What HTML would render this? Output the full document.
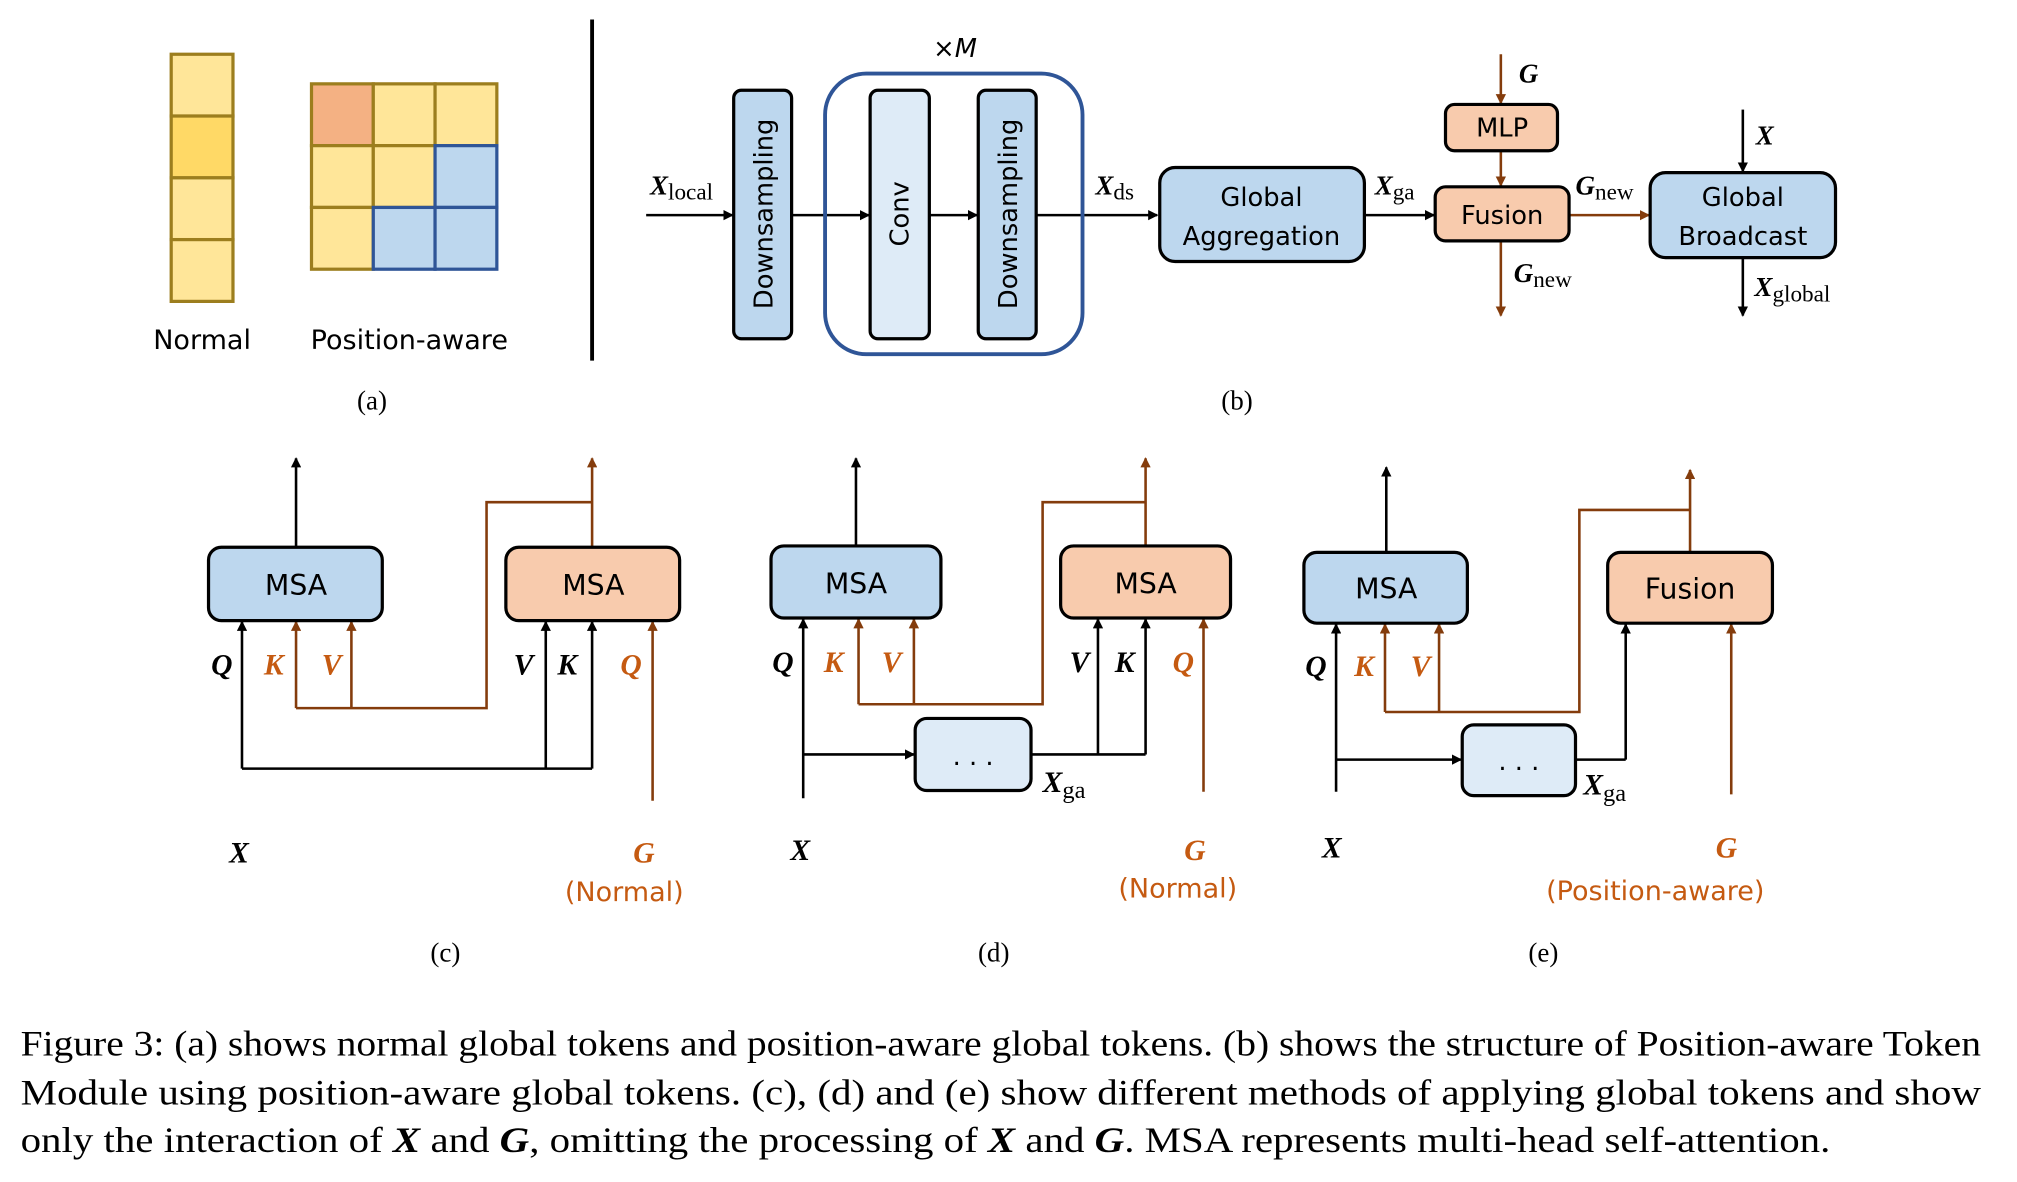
<!DOCTYPE html>
<html><head><meta charset="utf-8"><style>
html,body{margin:0;padding:0;background:#fff;}
svg{display:block;}
.s{font-family:"DejaVu Sans","Liberation Sans",sans-serif;}
.m{font-family:"Liberation Serif",serif;font-weight:bold;font-style:italic;}
.r{font-family:"Liberation Serif",serif;}
</style></head><body>
<svg width="2017" height="1182" viewBox="0 0 1567 918" xmlns="http://www.w3.org/2000/svg">
<defs>
<marker id="ak" markerWidth="8" markerHeight="8" refX="7" refY="4" orient="auto" markerUnits="userSpaceOnUse"><path d="M0,0 L8,4 L0,8 z" fill="#000"/></marker>
<marker id="ab" markerWidth="8" markerHeight="8" refX="7" refY="4" orient="auto" markerUnits="userSpaceOnUse"><path d="M0,0 L8,4 L0,8 z" fill="#843C0C"/></marker>
</defs>
<g stroke="#9C7E1E" stroke-width="2.5" fill="#FFE699">
<rect x="133" y="42" width="48" height="48"/><rect x="133" y="90" width="48" height="48" fill="#FFD966"/>
<rect x="133" y="138" width="48" height="48"/><rect x="133" y="186" width="48" height="48"/>
<rect x="242" y="65" width="48" height="48" fill="#F4B183"/><rect x="290" y="65" width="48" height="48"/><rect x="338" y="65" width="48" height="48"/>
<rect x="242" y="113" width="48" height="48"/><rect x="290" y="113" width="48" height="48"/>
<rect x="242" y="161" width="48" height="48"/>
</g>
<g stroke="#2F5597" stroke-width="2.5" fill="#BDD7EE">
<rect x="338" y="113" width="48" height="48"/><rect x="290" y="161" width="48" height="48"/><rect x="338" y="161" width="48" height="48"/>
</g>
<text x="157" y="271" class="s" font-size="21" text-anchor="middle">Normal</text>
<text x="318" y="271" class="s" font-size="21" text-anchor="middle">Position-aware</text>
<text x="289" y="318" class="r" font-size="21" text-anchor="middle">(a)</text>
<line x1="460" y1="15" x2="460" y2="280" stroke="#000" stroke-width="3"/>

<!-- (b) -->
<g stroke="#000" stroke-width="2" fill="none" marker-end="url(#ak)">
<line x1="502" y1="167" x2="569" y2="167"/><line x1="615" y1="167" x2="675" y2="167"/>
<line x1="722" y1="167" x2="759" y2="167"/><line x1="805" y1="167" x2="899" y2="167"/>
<line x1="1060" y1="167" x2="1114" y2="167"/><line x1="1354" y1="85" x2="1354" y2="133"/>
<line x1="1354" y1="200" x2="1354" y2="245"/>
</g>
<g stroke="#843C0C" stroke-width="2" fill="none" marker-end="url(#ab)">
<line x1="1166" y1="42" x2="1166" y2="80"/><line x1="1166" y1="117" x2="1166" y2="144"/>
<line x1="1166" y1="187" x2="1166" y2="245"/><line x1="1219" y1="167" x2="1281" y2="167"/>
</g>
<rect x="641" y="57" width="200" height="218" rx="32" fill="none" stroke="#2F5597" stroke-width="3"/>
<g stroke="#000" stroke-width="2.5">
<rect x="570" y="70" width="45" height="193" rx="6" fill="#BDD7EE"/>
<rect x="676" y="70" width="46" height="193" rx="6" fill="#DEEBF7"/>
<rect x="760" y="70" width="45" height="193" rx="6" fill="#BDD7EE"/>
<rect x="901" y="130" width="159" height="73" rx="12" fill="#BDD7EE"/>
<rect x="1115" y="145" width="104" height="42" rx="8" fill="#F8CBAD"/>
<rect x="1123" y="81" width="87" height="36" rx="7" fill="#F8CBAD"/>
<rect x="1282" y="134" width="144" height="66" rx="12" fill="#BDD7EE"/>
</g>
<g class="s" font-size="20" text-anchor="middle">
<text transform="translate(600,166) rotate(-90)">Downsampling</text>
<text transform="translate(706,166) rotate(-90)">Conv</text>
<text transform="translate(790,166) rotate(-90)">Downsampling</text>
<text x="980" y="160">Global</text><text x="980" y="190">Aggregation</text>
<text x="1167" y="174">Fusion</text><text x="1167" y="106">MLP</text>
<text x="1354" y="160">Global</text><text x="1354" y="190">Broadcast</text>
<text x="742" y="44" font-size="20">×<tspan font-style="italic">M</tspan></text>
</g>
<g font-size="21">
<text x="505" y="151"><tspan class="m">X</tspan><tspan class="r" font-size="18" dy="4">local</tspan></text>
<text x="851" y="151"><tspan class="m">X</tspan><tspan class="r" font-size="18" dy="4">ds</tspan></text>
<text x="1068" y="151"><tspan class="m">X</tspan><tspan class="r" font-size="18" dy="4">ga</tspan></text>
<text x="1224" y="151"><tspan class="m">G</tspan><tspan class="r" font-size="18" dy="4">new</tspan></text>
<text x="1176" y="219"><tspan class="m">G</tspan><tspan class="r" font-size="18" dy="4">new</tspan></text>
<text x="1363" y="230"><tspan class="m">X</tspan><tspan class="r" font-size="18" dy="4">global</tspan></text>
<text x="1180" y="64" class="m">G</text><text x="1364" y="112" class="m">X</text>
</g>
<text x="961" y="318" class="r" font-size="21" text-anchor="middle">(b)</text>

<!-- (c) -->
<g fill="none" stroke-width="2">
<g stroke="#000">
<line x1="230" y1="425" x2="230" y2="356" marker-end="url(#ak)"/>
<line x1="188" y1="597" x2="188" y2="483" marker-end="url(#ak)"/>
<polyline points="188,597 460,597"/>
<line x1="424" y1="597" x2="424" y2="483" marker-end="url(#ak)"/>
<line x1="460" y1="597" x2="460" y2="483" marker-end="url(#ak)"/>
</g>
<g stroke="#843C0C">
<line x1="230" y1="550" x2="230" y2="483" marker-end="url(#ab)"/>
<line x1="273" y1="550" x2="273" y2="483" marker-end="url(#ab)"/>
<polyline points="230,550 378,550 378,390 460,390"/>
<line x1="460" y1="425" x2="460" y2="356" marker-end="url(#ab)"/>
<line x1="507" y1="622" x2="507" y2="483" marker-end="url(#ab)"/>
</g>
</g>
<rect x="162" y="425" width="135" height="57" rx="10" fill="#BDD7EE" stroke="#000" stroke-width="2.5"/>
<rect x="393" y="425" width="135" height="57" rx="10" fill="#F8CBAD" stroke="#000" stroke-width="2.5"/>
<text x="230" y="462" class="s" font-size="22" text-anchor="middle">MSA</text>
<text x="461" y="462" class="s" font-size="22" text-anchor="middle">MSA</text>
<g class="m" font-size="23">
<text x="164" y="524">Q</text><text x="205" y="524" fill="#C55A11">K</text><text x="250" y="524" fill="#C55A11">V</text>
<text x="399" y="524">V</text><text x="433" y="524">K</text><text x="482" y="524" fill="#C55A11">Q</text>
<text x="178" y="670">X</text><text x="492" y="670" fill="#C55A11">G</text>
</g>
<text x="485" y="700" class="s" font-size="21" fill="#C55A11" text-anchor="middle">(Normal)</text>
<text x="346" y="747" class="r" font-size="21" text-anchor="middle">(c)</text>

<!-- (d) -->
<g fill="none" stroke-width="2">
<g stroke="#000">
<line x1="665" y1="424" x2="665" y2="356" marker-end="url(#ak)"/>
<line x1="624" y1="620" x2="624" y2="481" marker-end="url(#ak)"/>
<line x1="624" y1="586" x2="710" y2="586" marker-end="url(#ak)"/>
<polyline points="801,586 890,586"/>
<line x1="853" y1="586" x2="853" y2="481" marker-end="url(#ak)"/>
<line x1="890" y1="586" x2="890" y2="481" marker-end="url(#ak)"/>
</g>
<g stroke="#843C0C">
<line x1="667" y1="547" x2="667" y2="481" marker-end="url(#ab)"/>
<line x1="710" y1="547" x2="710" y2="481" marker-end="url(#ab)"/>
<polyline points="667,547 810,547 810,390 890,390"/>
<line x1="890" y1="424" x2="890" y2="356" marker-end="url(#ab)"/>
<line x1="935" y1="615" x2="935" y2="481" marker-end="url(#ab)"/>
</g>
</g>
<rect x="599" y="424" width="132" height="56" rx="10" fill="#BDD7EE" stroke="#000" stroke-width="2.5"/>
<rect x="824" y="424" width="132" height="56" rx="10" fill="#F8CBAD" stroke="#000" stroke-width="2.5"/>
<rect x="711" y="558" width="90" height="56" rx="9" fill="#DEEBF7" stroke="#000" stroke-width="2.5"/>
<text x="665" y="461" class="s" font-size="22" text-anchor="middle">MSA</text>
<text x="890" y="461" class="s" font-size="22" text-anchor="middle">MSA</text>
<text x="756" y="594" class="s" font-size="20" text-anchor="middle">. . .</text>
<g class="m" font-size="23">
<text x="600" y="522">Q</text><text x="640" y="522" fill="#C55A11">K</text><text x="685" y="522" fill="#C55A11">V</text>
<text x="831" y="522">V</text><text x="866" y="522">K</text><text x="911" y="522" fill="#C55A11">Q</text>
<text x="614" y="668">X</text><text x="920" y="668" fill="#C55A11">G</text>
<text x="810" y="615">X<tspan class="r" font-style="normal" font-weight="normal" font-size="19" dy="5">ga</tspan></text>
</g>
<text x="915" y="697" class="s" font-size="21" fill="#C55A11" text-anchor="middle">(Normal)</text>
<text x="772" y="747" class="r" font-size="21" text-anchor="middle">(d)</text>

<!-- (e) -->
<g fill="none" stroke-width="2">
<g stroke="#000">
<line x1="1077" y1="429" x2="1077" y2="363" marker-end="url(#ak)"/>
<line x1="1038" y1="615" x2="1038" y2="485" marker-end="url(#ak)"/>
<line x1="1038" y1="590" x2="1135" y2="590" marker-end="url(#ak)"/>
<polyline points="1224,590 1263,590"/>
<line x1="1263" y1="590" x2="1263" y2="485" marker-end="url(#ak)"/>
</g>
<g stroke="#843C0C">
<line x1="1076" y1="553" x2="1076" y2="485" marker-end="url(#ab)"/>
<line x1="1118" y1="553" x2="1118" y2="485" marker-end="url(#ab)"/>
<polyline points="1076,553 1227,553 1227,396 1313,396"/>
<line x1="1313" y1="429" x2="1313" y2="365" marker-end="url(#ab)"/>
<line x1="1345" y1="617" x2="1345" y2="485" marker-end="url(#ab)"/>
</g>
</g>
<rect x="1013" y="429" width="127" height="55" rx="10" fill="#BDD7EE" stroke="#000" stroke-width="2.5"/>
<rect x="1249" y="429" width="128" height="55" rx="10" fill="#F8CBAD" stroke="#000" stroke-width="2.5"/>
<rect x="1136" y="563" width="88" height="55" rx="9" fill="#DEEBF7" stroke="#000" stroke-width="2.5"/>
<text x="1077" y="465" class="s" font-size="22" text-anchor="middle">MSA</text>
<text x="1313" y="465" class="s" font-size="22" text-anchor="middle">Fusion</text>
<text x="1180" y="598" class="s" font-size="20" text-anchor="middle">. . .</text>
<g class="m" font-size="23">
<text x="1014" y="525">Q</text><text x="1052" y="525" fill="#C55A11">K</text><text x="1096" y="525" fill="#C55A11">V</text>
<text x="1027" y="666">X</text><text x="1333" y="666" fill="#C55A11">G</text>
<text x="1230" y="617">X<tspan class="r" font-style="normal" font-weight="normal" font-size="19" dy="5">ga</tspan></text>
</g>
<text x="1286" y="699" class="s" font-size="21" fill="#C55A11" text-anchor="middle">(Position-aware)</text>
<text x="1199" y="747" class="r" font-size="21" text-anchor="middle">(e)</text>

<!-- caption -->
<g class="r" font-size="28">
<text x="16" y="820" textLength="1523" lengthAdjust="spacingAndGlyphs">Figure 3: (a) shows normal global tokens and position-aware global tokens. (b) shows the structure of Position-aware Token</text>
<text x="16" y="858" textLength="1523" lengthAdjust="spacingAndGlyphs">Module using position-aware global tokens.  (c), (d) and (e) show different methods of applying global tokens and show</text>
<text x="16" y="895" textLength="1406" lengthAdjust="spacingAndGlyphs">only the interaction of <tspan class="m">X</tspan> and <tspan class="m">G</tspan>, omitting the processing of <tspan class="m">X</tspan> and <tspan class="m">G</tspan>. MSA represents multi-head self-attention.</text>
</g>
</svg>
</body></html>
